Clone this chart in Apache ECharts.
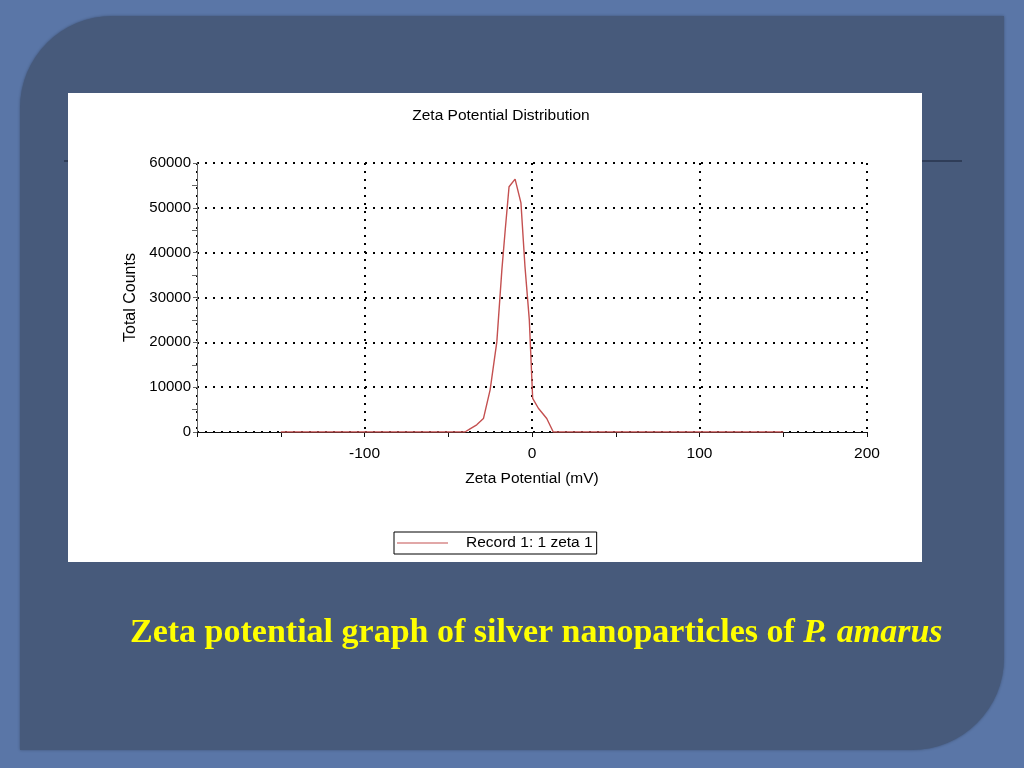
<!DOCTYPE html>
<html><head><meta charset="utf-8">
<script src="https://cdn.jsdelivr.net/npm/echarts@6/dist/echarts.min.js"></script>
<style>html,body{margin:0;padding:0;background:#5a76a7;}#c{width:1024px;height:768px;}</style>
</head><body><div id="c"></div>
<script>
// Data
var zetaMv = [-150, -40, -37, -33, -29, -25, -21, -18, -16, -13.7, -10.1, -6.6, -4.2, -1.6, 0.4, 3.8, 8.8, 12.7, 150];
var totalCounts = [0, 0, 700, 1600, 3000, 9400, 20100, 36100, 45000, 54700, 56400, 51100, 36900, 25000, 7500, 5300, 3000, 0, 0];
var xTickLabels = ['-100', '0', '100', '200'];
var seriesName = 'Record 1: 1 zeta 1';
var chartTitle = 'Zeta Potential Distribution';
var captionMain = 'Zeta potential graph of silver nanoparticles of ';
var captionItalic = 'P. amarus';

var points = zetaMv.map(function (x, i) { return [x, totalCounts[i]]; });
var dotted = { color: '#000', width: 2, type: [2, 6] };
var FONT = 'Liberation Sans';
var chart = echarts.init(document.getElementById('c'));
chart.setOption({
  backgroundColor: '#5a76a7',
  animation: false,
  graphic: [
    { type: 'rect', z: -20, shape: { x: 20, y: 16, width: 984, height: 734, r: [92, 0, 92, 0] },
      style: { fill: '#475a7b', shadowBlur: 3, shadowColor: 'rgba(0,0,0,0.3)' } },
    { type: 'line', z: -19, shape: { x1: 64, y1: 161, x2: 962, y2: 161 }, style: { stroke: '#2f3d58', lineWidth: 2 } },
    { type: 'rect', z: -18, shape: { x: 68, y: 93, width: 854, height: 469 }, style: { fill: '#ffffff' } },
    { type: 'text', z: 10, x: 130, y: 633,
      style: {
        text: '{a|' + captionMain + '}{b|' + captionItalic + '}',
        verticalAlign: 'middle',
        rich: {
          a: { fill: '#ffff00', fontFamily: 'Liberation Serif', fontWeight: 'bold', fontSize: 34 },
          b: { fill: '#ffff00', fontFamily: 'Liberation Serif', fontWeight: 'bold', fontStyle: 'italic', fontSize: 34 }
        }
      } }
  ],
  title: {
    text: chartTitle, left: 496, top: 103, textAlign: 'center',
    textStyle: { fontFamily: FONT, fontSize: 15.5, fontWeight: 'normal', color: '#000' }
  },
  legend: {
    left: 394, top: 532, data: [seriesName],
    borderColor: '#000', borderWidth: 1, padding: [3, 4, 3, 3],
    itemWidth: 51, itemHeight: 1, icon: 'rect',
    textStyle: { fontFamily: FONT, fontSize: 15.5, color: '#000', padding: [0, 0, 0, 13] }
  },
  grid: { left: 197, right: 157, top: 163, bottom: 336 },
  xAxis: {
    type: 'value', min: -200, max: 200, interval: 100,
    name: 'Zeta Potential (mV)', nameLocation: 'middle', nameGap: 39,
    nameTextStyle: { fontFamily: FONT, fontSize: 15.5, color: '#000' },
    axisLine: { lineStyle: { color: '#111', width: 1 } },
    axisTick: { length: 5, lineStyle: { color: '#111' } },
    minorTick: { show: true, splitNumber: 2, length: 5, lineStyle: { color: '#111' } },
    axisLabel: { margin: 14, fontFamily: FONT, fontSize: 15.5, color: '#000',
      formatter: function (v) { var s = String(v); return xTickLabels.indexOf(s) >= 0 ? s : ''; } },
    splitLine: { show: true, lineStyle: dotted }
  },
  yAxis: {
    type: 'value', min: 0, max: 60000, interval: 10000,
    name: 'Total Counts', nameLocation: 'middle', nameGap: 58,
    nameTextStyle: { fontFamily: FONT, fontSize: 16, color: '#000' },
    axisLine: { show: true, onZero: false, lineStyle: { color: '#666', width: 1 } },
    axisTick: { show: true, length: 4, lineStyle: { color: '#666' } },
    minorTick: { show: true, splitNumber: 2, length: 5, lineStyle: { color: '#666' } },
    axisLabel: { margin: 6, fontFamily: FONT, fontSize: 15, color: '#000', padding: [3, 0, 0, 0],
      formatter: function (v) { return String(v); } },
    splitLine: { show: true, lineStyle: dotted }
  },
  series: [{
    name: seriesName, type: 'line', data: points, symbol: 'none',
    lineStyle: { color: '#c45050', width: 1.4 }, itemStyle: { color: '#c45050' }
  }]
});
</script></body></html>
